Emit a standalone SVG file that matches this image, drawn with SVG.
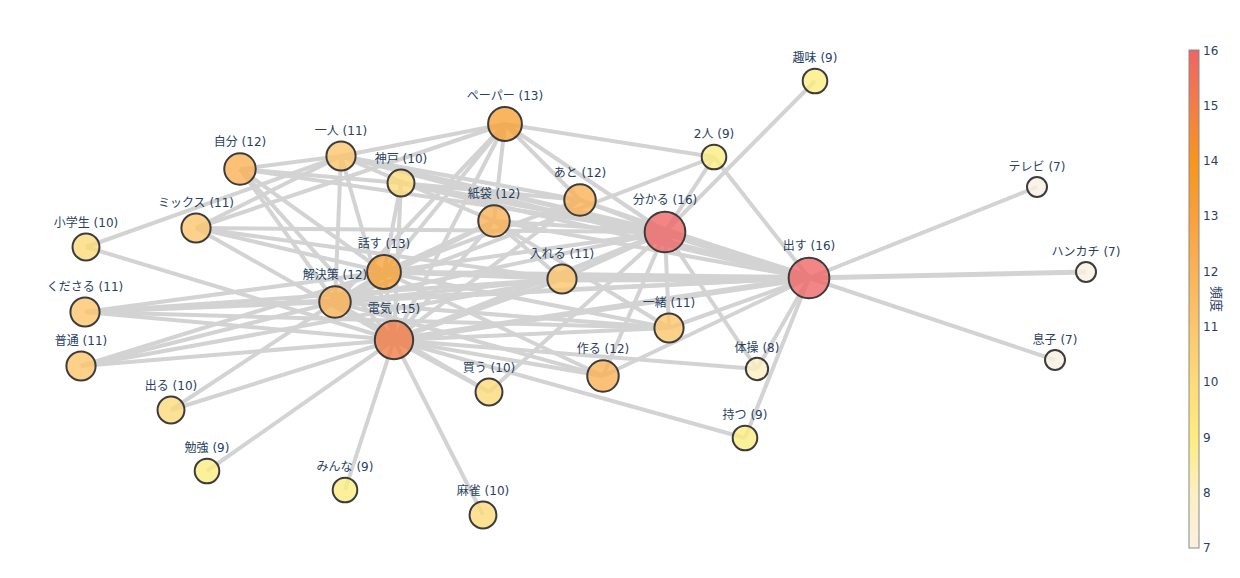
<svg xmlns="http://www.w3.org/2000/svg" width="1240" height="578" viewBox="0 0 1240 578">
<style>
.e{stroke:#d3d3d3;stroke-width:4;fill:none}
.w5{stroke-width:5}.w6{stroke-width:6}.w7{stroke-width:7}.w8{stroke-width:8}
circle{stroke:#3c3c3c;stroke-width:2;fill-opacity:0.8}
.f7{fill:#faf0e1}.f8{fill:#fcefc2}.f9{fill:#fdec82}.f10{fill:#fddb7a}.f11{fill:#fcc66c}.f12{fill:#fab257}.f13{fill:#f9a33a}.f15{fill:#f37d48}.f16{fill:#ef6868}
text{font-family:"DejaVu Sans","Noto Sans CJK JP",sans-serif;font-size:12px;fill:#2a3f5f}
.lb{text-anchor:middle}
</style>
<defs>
<linearGradient id="cb" x1="0" y1="1" x2="0" y2="0">
<stop offset="0" stop-color="#faf0e1"/>
<stop offset="0.111" stop-color="#fcefc2"/>
<stop offset="0.222" stop-color="#fdec80"/>
<stop offset="0.333" stop-color="#fddb7a"/>
<stop offset="0.444" stop-color="#fcc66c"/>
<stop offset="0.556" stop-color="#fab257"/>
<stop offset="0.667" stop-color="#f9a03a"/>
<stop offset="0.778" stop-color="#f8951c"/>
<stop offset="0.889" stop-color="#f37d48"/>
<stop offset="1" stop-color="#ef6464"/>
</linearGradient>
</defs>
<rect width="1240" height="578" fill="#ffffff"/>
<g id="edges">
<line class="e" x1="815" y1="81" x2="665" y2="232"/>
<line class="e" x1="1037" y1="187" x2="809" y2="278"/>
<line class="e w5" x1="1086" y1="272" x2="809" y2="278"/>
<line class="e" x1="1055" y1="360" x2="809" y2="278"/>
<line class="e" x1="714" y1="157" x2="505" y2="124"/>
<line class="e" x1="714" y1="157" x2="665" y2="232"/>
<line class="e" x1="714" y1="157" x2="809" y2="278"/>
<line class="e" x1="714" y1="157" x2="335" y2="302"/>
<line class="e" x1="757" y1="369" x2="665" y2="232"/>
<line class="e" x1="757" y1="369" x2="809" y2="278"/>
<line class="e" x1="757" y1="369" x2="394" y2="340"/>
<line class="e" x1="745" y1="438" x2="809" y2="278"/>
<line class="e" x1="745" y1="438" x2="394" y2="340"/>
<line class="e" x1="483" y1="515" x2="394" y2="340"/>
<line class="e" x1="345" y1="490" x2="394" y2="340"/>
<line class="e" x1="207" y1="471" x2="394" y2="340"/>
<line class="e" x1="171" y1="410" x2="394" y2="340"/>
<line class="e" x1="171" y1="410" x2="335" y2="302"/>
<line class="e" x1="81" y1="366" x2="394" y2="340"/>
<line class="e" x1="81" y1="366" x2="335" y2="302"/>
<line class="e" x1="81" y1="366" x2="384" y2="272"/>
<line class="e" x1="81" y1="366" x2="562" y2="279"/>
<line class="e" x1="85" y1="312" x2="335" y2="302"/>
<line class="e" x1="85" y1="312" x2="394" y2="340"/>
<line class="e" x1="85" y1="312" x2="384" y2="272"/>
<line class="e" x1="85" y1="312" x2="562" y2="279"/>
<line class="e" x1="85" y1="312" x2="669" y2="328"/>
<line class="e" x1="85" y1="312" x2="809" y2="278"/>
<line class="e" x1="86" y1="247" x2="341" y2="156"/>
<line class="e" x1="86" y1="247" x2="394" y2="340"/>
<line class="e" x1="196" y1="228" x2="341" y2="156"/>
<line class="e" x1="196" y1="228" x2="665" y2="232"/>
<line class="e" x1="196" y1="228" x2="562" y2="279"/>
<line class="e" x1="196" y1="228" x2="384" y2="272"/>
<line class="e" x1="196" y1="228" x2="394" y2="340"/>
<line class="e" x1="196" y1="228" x2="505" y2="124"/>
<line class="e" x1="240" y1="169" x2="341" y2="156"/>
<line class="e" x1="240" y1="169" x2="401" y2="183"/>
<line class="e" x1="240" y1="169" x2="384" y2="272"/>
<line class="e" x1="240" y1="169" x2="335" y2="302"/>
<line class="e" x1="240" y1="169" x2="394" y2="340"/>
<line class="e" x1="240" y1="169" x2="665" y2="232"/>
<line class="e" x1="489" y1="392" x2="394" y2="340"/>
<line class="e" x1="489" y1="392" x2="665" y2="232"/>
<line class="e" x1="489" y1="392" x2="335" y2="302"/>
<line class="e" x1="341" y1="156" x2="335" y2="302"/>
<line class="e" x1="341" y1="156" x2="394" y2="340"/>
<line class="e" x1="341" y1="156" x2="505" y2="124"/>
<line class="e w5" x1="341" y1="156" x2="665" y2="232"/>
<line class="e" x1="341" y1="156" x2="809" y2="278"/>
<line class="e" x1="341" y1="156" x2="494" y2="221"/>
<line class="e" x1="341" y1="156" x2="580" y2="200"/>
<line class="e" x1="401" y1="183" x2="384" y2="272"/>
<line class="e" x1="401" y1="183" x2="394" y2="340"/>
<line class="e w5" x1="401" y1="183" x2="665" y2="232"/>
<line class="e" x1="401" y1="183" x2="809" y2="278"/>
<line class="e" x1="401" y1="183" x2="580" y2="200"/>
<line class="e" x1="505" y1="124" x2="384" y2="272"/>
<line class="e" x1="505" y1="124" x2="335" y2="302"/>
<line class="e" x1="505" y1="124" x2="394" y2="340"/>
<line class="e" x1="505" y1="124" x2="494" y2="221"/>
<line class="e" x1="505" y1="124" x2="665" y2="232"/>
<line class="e" x1="505" y1="124" x2="580" y2="200"/>
<line class="e" x1="494" y1="221" x2="665" y2="232"/>
<line class="e" x1="494" y1="221" x2="809" y2="278"/>
<line class="e" x1="494" y1="221" x2="394" y2="340"/>
<line class="e" x1="494" y1="221" x2="384" y2="272"/>
<line class="e" x1="494" y1="221" x2="335" y2="302"/>
<line class="e" x1="494" y1="221" x2="669" y2="328"/>
<line class="e" x1="494" y1="221" x2="562" y2="279"/>
<line class="e" x1="580" y1="200" x2="665" y2="232"/>
<line class="e" x1="580" y1="200" x2="809" y2="278"/>
<line class="e" x1="580" y1="200" x2="394" y2="340"/>
<line class="e" x1="580" y1="200" x2="384" y2="272"/>
<line class="e w7" x1="562" y1="279" x2="809" y2="278"/>
<line class="e" x1="562" y1="279" x2="665" y2="232"/>
<line class="e" x1="562" y1="279" x2="394" y2="340"/>
<line class="e" x1="562" y1="279" x2="384" y2="272"/>
<line class="e" x1="562" y1="279" x2="335" y2="302"/>
<line class="e" x1="669" y1="328" x2="665" y2="232"/>
<line class="e" x1="669" y1="328" x2="809" y2="278"/>
<line class="e" x1="669" y1="328" x2="394" y2="340"/>
<line class="e" x1="669" y1="328" x2="384" y2="272"/>
<line class="e" x1="669" y1="328" x2="335" y2="302"/>
<line class="e" x1="603" y1="376" x2="665" y2="232"/>
<line class="e" x1="603" y1="376" x2="809" y2="278"/>
<line class="e" x1="603" y1="376" x2="394" y2="340"/>
<line class="e" x1="603" y1="376" x2="384" y2="272"/>
<line class="e" x1="603" y1="376" x2="335" y2="302"/>
<line class="e w8" x1="665" y1="232" x2="809" y2="278"/>
<line class="e w5" x1="665" y1="232" x2="394" y2="340"/>
<line class="e" x1="665" y1="232" x2="384" y2="272"/>
<line class="e" x1="665" y1="232" x2="335" y2="302"/>
<line class="e w6" x1="809" y1="278" x2="394" y2="340"/>
<line class="e w5" x1="809" y1="278" x2="384" y2="272"/>
<line class="e" x1="809" y1="278" x2="335" y2="302"/>
<line class="e" x1="394" y1="340" x2="384" y2="272"/>
<line class="e" x1="394" y1="340" x2="335" y2="302"/>
<line class="e" x1="384" y1="272" x2="335" y2="302"/>
</g>
<g id="nodes">
<g id="n-shumi"><circle class="f9" cx="815" cy="81" r="12.3"/><text class="lb" x="815" y="62.2">趣味 (9)</text></g>
<g id="n-paper"><circle class="f13" cx="505" cy="124" r="16.9"/><text class="lb" x="505" y="99.7">ペーパー (13)</text></g>
<g id="n-futari"><circle class="f9" cx="714" cy="157" r="12.3"/><text class="lb" x="714" y="138.2">2人 (9)</text></g>
<g id="n-hitori"><circle class="f11" cx="341" cy="156" r="14.6"/><text class="lb" x="341" y="134.5">一人 (11)</text></g>
<g id="n-jibun"><circle class="f12" cx="240" cy="169" r="15.75"/><text class="lb" x="240" y="146.1">自分 (12)</text></g>
<g id="n-kobe"><circle class="f10" cx="401" cy="183" r="13.45"/><text class="lb" x="401" y="162.9">神戸 (10)</text></g>
<g id="n-tv"><circle class="f7" cx="1037" cy="187" r="10"/><text class="lb" x="1037" y="171">テレビ (7)</text></g>
<g id="n-ato"><circle class="f12" cx="580" cy="200" r="15.75"/><text class="lb" x="580" y="177.1">あと (12)</text></g>
<g id="n-kamibukuro"><circle class="f12" cx="494" cy="221" r="15.75"/><text class="lb" x="494" y="198.1">紙袋 (12)</text></g>
<g id="n-wakaru"><circle class="f16" cx="665" cy="232" r="20.35"/><text class="lb" x="665" y="203.6">分かる (16)</text></g>
<g id="n-mix"><circle class="f11" cx="196" cy="228" r="14.6"/><text class="lb" x="196" y="206.5">ミックス (11)</text></g>
<g id="n-shogakusei"><circle class="f10" cx="86" cy="247" r="13.45"/><text class="lb" x="86" y="226.9">小学生 (10)</text></g>
<g id="n-hanasu"><circle class="f13" cx="384" cy="272" r="16.9"/><text class="lb" x="384" y="247.7">話す (13)</text></g>
<g id="n-ireru"><circle class="f11" cx="562" cy="279" r="14.6"/><text class="lb" x="562" y="257.5">入れる (11)</text></g>
<g id="n-dasu"><circle class="f16" cx="809" cy="278" r="20.35"/><text class="lb" x="809" y="249.6">出す (16)</text></g>
<g id="n-hankachi"><circle class="f7" cx="1086" cy="272" r="10"/><text class="lb" x="1086" y="256">ハンカチ (7)</text></g>
<g id="n-kaiketsu"><circle class="f12" cx="335" cy="302" r="15.75"/><text class="lb" x="335" y="279.1">解決策 (12)</text></g>
<g id="n-kudasaru"><circle class="f11" cx="85" cy="312" r="14.6"/><text class="lb" x="85" y="290.5">くださる (11)</text></g>
<g id="n-issho"><circle class="f11" cx="669" cy="328" r="14.6"/><text class="lb" x="669" y="306.5">一緒 (11)</text></g>
<g id="n-denki"><circle class="f15" cx="394" cy="340" r="19.2"/><text class="lb" x="394" y="313">電気 (15)</text></g>
<g id="n-musuko"><circle class="f7" cx="1055" cy="360" r="10"/><text class="lb" x="1055" y="344">息子 (7)</text></g>
<g id="n-futsu"><circle class="f11" cx="81" cy="366" r="14.6"/><text class="lb" x="81" y="344.5">普通 (11)</text></g>
<g id="n-taiso"><circle class="f8" cx="757" cy="369" r="11.15"/><text class="lb" x="757" y="351.6">体操 (8)</text></g>
<g id="n-tsukuru"><circle class="f12" cx="603" cy="376" r="15.75"/><text class="lb" x="603" y="353.1">作る (12)</text></g>
<g id="n-kau"><circle class="f10" cx="489" cy="392" r="13.45"/><text class="lb" x="489" y="371.9">買う (10)</text></g>
<g id="n-deru"><circle class="f10" cx="171" cy="410" r="13.45"/><text class="lb" x="171" y="389.9">出る (10)</text></g>
<g id="n-motsu"><circle class="f9" cx="745" cy="438" r="12.3"/><text class="lb" x="745" y="419.2">持つ (9)</text></g>
<g id="n-benkyo"><circle class="f9" cx="207" cy="471" r="12.3"/><text class="lb" x="207" y="452.2">勉強 (9)</text></g>
<g id="n-minna"><circle class="f9" cx="345" cy="490" r="12.3"/><text class="lb" x="345" y="471.2">みんな (9)</text></g>
<g id="n-majan"><circle class="f10" cx="483" cy="515" r="13.45"/><text class="lb" x="483" y="494.9">麻雀 (10)</text></g>
</g>
<g id="colorbar">
<rect x="1189" y="50" width="10" height="498" fill="url(#cb)" stroke="#8a8a8a" stroke-width="1"/>
<text x="1203" y="54.5">16</text>
<text x="1203" y="109.8">15</text>
<text x="1203" y="165.1">14</text>
<text x="1203" y="220.4">13</text>
<text x="1203" y="275.7">12</text>
<text x="1203" y="331">11</text>
<text x="1203" y="386.3">10</text>
<text x="1203" y="441.6">9</text>
<text x="1203" y="496.9">8</text>
<text x="1203" y="552.2">7</text>
<text transform="translate(1212,299) rotate(90)" style="font-size:13px" text-anchor="middle">頻度</text>
</g>
</svg>
